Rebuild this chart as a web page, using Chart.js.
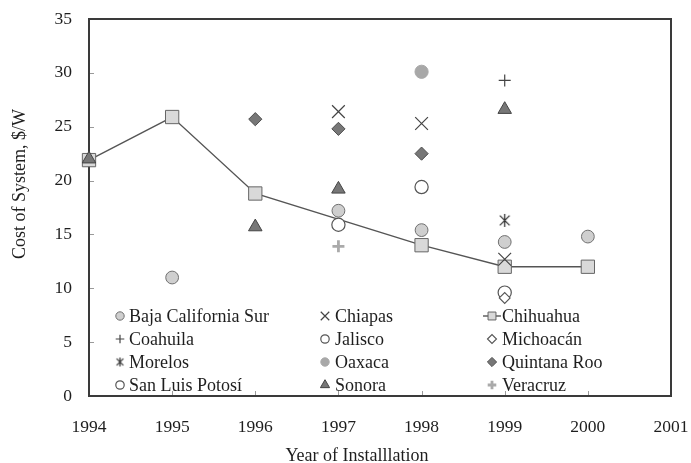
<!DOCTYPE html>
<html>
<head>
<meta charset="utf-8">
<script src="https://cdn.jsdelivr.net/npm/chart.js@4.4.1/dist/chart.umd.min.js"></script>
<style>
  html, body { margin: 0; padding: 0; background: #fff; }
</style>
</head>
<body>
<canvas id="costChart" width="691" height="463"></canvas>
<script>
// states, in legend order (row by row)
const states = [
  'Baja California Sur', 'Chiapas', 'Chihuahua',
  'Coahuila', 'Jalisco', 'Michoacán',
  'Morelos', 'Oaxaca', 'Quintana Roo',
  'San Luis Potosí', 'Sonora', 'Veracruz'
];

// [year, cost $/W]
const bajaCaliforniaSur = [[1995, 11.0], [1997, 17.2], [1998, 15.4], [1999, 14.3], [2000, 14.8]];
const chiapas = [[1997, 26.4], [1998, 25.3], [1999, 12.7]];
const chihuahua = [[1994, 21.9], [1995, 25.9], [1996, 18.8], [1998, 14.0], [1999, 12.0], [2000, 12.0]];
const coahuila = [[1999, 29.3]];
const jalisco = [[1997, 15.9], [1999, 9.6]];
const michoacan = [[1999, 9.1]];
const morelos = [[1999, 16.3]];
const oaxaca = [[1998, 30.1]];
const quintanaRoo = [[1996, 25.7], [1997, 24.8], [1998, 22.5]];
const sanLuisPotosi = [[1998, 19.4]];
const sonora = [[1994, 22.0], [1996, 15.7], [1997, 19.2], [1999, 26.6]];
const veracruz = [[1997, 13.9]];

const xTicks = [1994, 1995, 1996, 1997, 1998, 1999, 2000, 2001];
const yTicks = [0, 5, 10, 15, 20, 25, 30, 35];

const series = [bajaCaliforniaSur, chiapas, chihuahua, coahuila, jalisco, michoacan,
  morelos, oaxaca, quintanaRoo, sanLuisPotosi, sonora, veracruz];

const serif = '"Liberation Serif", "DejaVu Serif", serif';
const textColor = '#1e1e1e';

// Excel-like "star": an x with a vertical bar
function starMark(r, color, lw) {
  const c = document.createElement('canvas');
  const s = Math.ceil(2 * r + lw + 2);
  c.width = c.height = s;
  const g = c.getContext('2d');
  const m = s / 2, d = r * 0.75;
  g.strokeStyle = color;
  g.lineWidth = lw;
  g.beginPath();
  g.moveTo(m - d, m - d); g.lineTo(m + d, m + d);
  g.moveTo(m + d, m - d); g.lineTo(m - d, m + d);
  g.moveTo(m, m - r); g.lineTo(m, m + r);
  g.stroke();
  return c;
}

// marker looks, same order as states
const looks = [
  { style: 'circle',   r: 6.4, lr: 4.2, bg: '#cfcfcf', border: '#707070', bw: 1 },
  { style: 'crossRot', r: 9,   lr: 6,   bg: '#444',    border: '#444',    bw: 1.2 },
  { style: 'rect',     r: 9.4, lr: 5.6, bg: '#d9d9d9', border: '#666',    bw: 1 },
  { style: 'cross',    r: 6,   lr: 4.3, bg: '#444',    border: '#444',    bw: 1.2 },
  { style: 'circle',   r: 6.6, lr: 4.2, bg: '#fff',    border: '#555',    bw: 1.2 },
  { style: 'rectRot',  r: 5.4, lr: 4.5, bg: '#fff',    border: '#555',    bw: 1.1 },
  { style: starMark(6.5, '#333', 1.3), legend: starMark(4.5, '#333', 1.2), r: 7, lr: 5, bg: '#333', border: '#333', bw: 1 },
  { style: 'circle',   r: 6.6, lr: 4.2, bg: '#a8a8a8', border: '#a8a8a8', bw: 1 },
  { style: 'rectRot',  r: 6.6, lr: 4.6, bg: '#777',    border: '#4d4d4d', bw: 1 },
  { style: 'circle',   r: 6.6, lr: 4.2, bg: '#fff',    border: '#555',    bw: 1.2 },
  { style: 'triangle', r: 7.8, lr: 5.3, bg: '#777',    border: '#444',    bw: 1 },
  { style: 'cross',    r: 6,   lr: 4.3, bg: '#aaa',    border: '#aaa',    bw: 2.8 }
];

// later series sit on top; the Chihuahua line stays underneath everything
const datasets = states.map((name, i) => {
  const lk = looks[i];
  const isLine = name === 'Chihuahua';
  return {
    label: name,
    data: series[i].map(p => ({ x: p[0], y: p[1] })),
    showLine: isLine,
    borderColor: isLine ? '#555' : lk.border,
    borderWidth: 1.4,
    pointStyle: lk.style,
    pointRadius: lk.r,
    pointHoverRadius: lk.r,
    pointBackgroundColor: lk.bg,
    pointBorderColor: lk.border,
    pointBorderWidth: lk.bw,
    clip: false,
    order: isLine ? 99 : states.length - i
  };
});

const legendCols = [120, 325, 492];
const legendText = [129, 335, 502];
const legendRows = [316, 339, 362, 385];

const framePlugin = {
  id: 'frame',
  beforeDatasetsDraw(chart) {
    const { ctx, chartArea: a, scales: { x, y } } = chart;
    ctx.save();
    // inward tick marks
    ctx.strokeStyle = '#9a9a9a';
    ctx.lineWidth = 1;
    ctx.beginPath();
    xTicks.slice(1, -1).forEach(v => {
      const px = Math.round(x.getPixelForValue(v)) + 0.5;
      ctx.moveTo(px, a.bottom); ctx.lineTo(px, a.bottom - 5);
    });
    yTicks.slice(1, -1).forEach(v => {
      const py = Math.round(y.getPixelForValue(v)) + 0.5;
      ctx.moveTo(a.left, py); ctx.lineTo(a.left + 5, py);
    });
    ctx.stroke();
    // box
    ctx.strokeStyle = '#3a3a3a';
    ctx.lineWidth = 2;
    ctx.strokeRect(a.left, a.top, a.right - a.left, a.bottom - a.top);
    ctx.restore();
  },
  afterDraw(chart) {
    const { ctx } = chart;
    ctx.save();
    ctx.fillStyle = textColor;
    ctx.font = '18px ' + serif;
    ctx.textBaseline = 'middle';
    // axis titles
    ctx.textAlign = 'center';
    ctx.fillText('Year of Installlation', 357, 456);
    ctx.save();
    ctx.translate(20, 184);
    ctx.rotate(-Math.PI / 2);
    ctx.fillText('Cost of System, $/W', 0, 0);
    ctx.restore();
    // legend, three columns
    ctx.textAlign = 'left';
    states.forEach((name, i) => {
      const lk = looks[i];
      const mx = legendCols[i % 3];
      const my = legendRows[Math.floor(i / 3)];
      if (name === 'Chihuahua') {
        ctx.strokeStyle = '#555';
        ctx.lineWidth = 1.4;
        ctx.beginPath();
        ctx.moveTo(mx - 9, my); ctx.lineTo(mx + 9, my);
        ctx.stroke();
      }
      ctx.fillStyle = lk.bg;
      ctx.strokeStyle = lk.border;
      ctx.lineWidth = lk.bw;
      Chart.helpers.drawPoint(ctx, {
        pointStyle: lk.legend || lk.style, radius: lk.lr, rotation: 0, borderWidth: lk.bw
      }, mx, my);
      ctx.fillStyle = textColor;
      ctx.fillText(name, legendText[i % 3], my + 1);
    });
    ctx.restore();
  }
};

new Chart(document.getElementById('costChart').getContext('2d'), {
  type: 'scatter',
  data: { datasets },
  options: {
    responsive: false,
    animation: false,
    events: [],
    layout: { padding: { top: 19, right: 20, left: 0, bottom: 0 } },
    plugins: { legend: { display: false }, tooltip: { enabled: false } },
    scales: {
      x: {
        type: 'linear',
        min: 1994,
        max: 2001,
        afterBuildTicks: s => { s.ticks = xTicks.map(v => ({ value: v })); },
        afterFit: s => { s.height = 67; s.paddingLeft = 0; s.paddingRight = 0; },
        grid: { display: false, drawTicks: false },
        border: { display: false },
        ticks: {
          padding: 21,
          color: textColor,
          font: { family: serif, size: 17.5 },
          callback: v => String(v)
        }
      },
      y: {
        min: 0,
        max: 35,
        afterBuildTicks: s => { s.ticks = yTicks.map(v => ({ value: v })); },
        afterFit: s => { s.width = 89; s.paddingTop = 0; s.paddingBottom = 0; },
        grid: { display: false, drawTicks: false },
        border: { display: false },
        ticks: {
          padding: 17,
          color: textColor,
          font: { family: serif, size: 17.5 },
          callback: v => String(v)
        }
      }
    }
  },
  plugins: [framePlugin]
});
</script>
</body>
</html>
